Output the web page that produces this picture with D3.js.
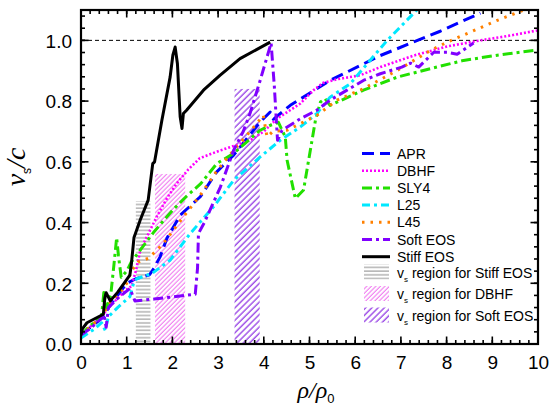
<!DOCTYPE html>
<html><head><meta charset="utf-8">
<script src="https://cdn.jsdelivr.net/npm/d3@7"></script>
<style>body{margin:0;background:#fff}svg{display:block}</style>
</head><body><div id="chart"></div>
<script>
// ---------- data ----------
const xTickValues = [0,1,2,3,4,5,6,7,8,9,10];
const yTickValues = [0.0,0.2,0.4,0.6,0.8,1.0];

const aprX = [0,0.25,0.5,0.6,0.8,1.0,1.2,1.5,1.6,1.73,1.88,2.17,2.61,2.97,3.34,3.92,4.14,4.21,4.58,5.45,6.55,7.86,8.74];
const aprY = [0.03,0.06,0.09,0.12,0.16,0.2,0.215,0.228,0.25,0.287,0.348,0.424,0.485,0.567,0.622,0.731,0.764,0.74,0.786,0.868,0.95,1.03,1.09];

const dbhfX = [0,0.3,0.5,0.6,0.8,1.0,1.1,1.2,1.3,1.66,1.88,2.1,2.35,2.6,3.0,3.34,3.7,4.0,4.29,4.8,5.09,5.3,5.6,6.11,6.55,7.28,8.01,8.74,9.4,10];
const dbhfY = [0.03,0.07,0.1,0.12,0.15,0.18,0.19,0.24,0.31,0.42,0.48,0.53,0.575,0.612,0.635,0.652,0.671,0.7,0.742,0.792,0.836,0.86,0.872,0.885,0.912,0.95,0.98,1.0,1.016,1.033];

const sly4X = [0,0.2,0.45,0.5,0.55,0.65,0.72,0.78,0.82,0.88,1.0,1.1,1.3,1.6,2.0,2.3,2.62,2.97,3.34,3.92,4.14,4.32,4.47,4.51,4.69,4.87,5.13,5.24,5.34,5.45,6.18,6.92,7.65,8.37,9.11,10];
const sly4Y = [0.03,0.06,0.09,0.17,0.12,0.16,0.26,0.35,0.29,0.22,0.24,0.27,0.31,0.37,0.44,0.485,0.528,0.594,0.628,0.704,0.72,0.73,0.682,0.605,0.479,0.507,0.737,0.797,0.808,0.786,0.836,0.879,0.907,0.934,0.951,0.969];

const l25X = [0,0.3,0.45,0.53,0.6,0.8,1.07,1.15,1.22,1.55,1.95,2.39,2.9,3.34,3.92,4.36,4.8,5.16,5.45,5.89,6.7,7.35];
const l25Y = [0.02,0.05,0.07,0.045,0.09,0.12,0.156,0.2,0.215,0.232,0.276,0.364,0.452,0.539,0.616,0.671,0.715,0.759,0.813,0.857,1.0,1.1];

const l45X = [0,0.3,0.5,0.6,0.8,1.0,1.1,1.25,1.47,1.66,1.8,2.24,2.61,2.97,3.34,3.7,3.99,4.07,4.2,4.51,5.16,5.6,6.18,6.92,7.65,8.01,8.52,9.11,9.69];
const l45Y = [0.03,0.07,0.1,0.13,0.16,0.2,0.24,0.27,0.282,0.309,0.331,0.419,0.49,0.57,0.638,0.7,0.753,0.682,0.7,0.704,0.753,0.803,0.841,0.901,0.967,0.994,1.027,1.066,1.1];

const softX = [0,0.2,0.45,0.5,0.55,0.6,0.8,1.07,1.18,1.6,2.0,2.5,2.55,2.57,2.7,3.05,3.34,3.55,3.7,3.92,4.16,4.23,4.3,4.4,4.8,5.16,5.45,5.82,6.18,6.55,7.02,7.21,7.39,7.72,8.01,8.23,8.59];
const softY = [0.03,0.05,0.085,0.1,0.055,0.12,0.15,0.183,0.142,0.148,0.155,0.164,0.25,0.364,0.4,0.517,0.638,0.7,0.76,0.868,0.991,0.85,0.671,0.704,0.742,0.77,0.803,0.836,0.868,0.89,0.912,0.925,0.912,0.961,0.961,0.954,0.991];

const stiffX = [0,0.03,0.13,0.49,0.52,0.55,0.64,0.8,1.07,1.1,1.16,1.3,1.47,1.57,1.61,1.77,1.95,2.01,2.06,2.11,2.17,2.21,2.24,2.31,2.68,3.04,3.48,4.14];
const stiffY = [0.03,0.05,0.07,0.098,0.15,0.169,0.142,0.17,0.227,0.26,0.351,0.41,0.474,0.594,0.60,0.737,0.879,0.951,0.978,0.923,0.748,0.71,0.759,0.77,0.836,0.885,0.94,0.994];

// shaded regions: [x0, x1, top]
const regionNames = ["stiff","dbhf","soft"];
const regionX0 = [1.20, 1.62, 3.36];
const regionX1 = [1.52, 2.28, 3.91];
const regionTop = [0.47, 0.56, 0.84];

const seriesNames = ["APR","DBHF","SLY4","L25","L45","Soft EOS","Stiff EOS"];
const regionLabels = ["region for Stiff EOS","region for DBHF","region for Soft EOS"];

// ---------- styles ----------
const seriesStyle = {
  "APR":      {color:"#0000ff", dash:"12,6", width:3},
  "DBHF":     {color:"#ff00ff", dash:"2,2", width:2.6},
  "SLY4":     {color:"#22e000", dash:"10,4,3,4", width:3},
  "L25":      {color:"#00e8ff", dash:"8,4,3,4", width:3},
  "L45":      {color:"#ff8000", dash:"2.5,6", width:3},
  "Soft EOS": {color:"#8000ff", dash:"10,4,3,4", width:3},
  "Stiff EOS":{color:"#000000", dash:null, width:3}
};
const seriesData = {
  "APR":[aprX,aprY], "DBHF":[dbhfX,dbhfY], "SLY4":[sly4X,sly4Y],
  "L25":[l25X,l25Y], "L45":[l45X,l45Y], "Soft EOS":[softX,softY], "Stiff EOS":[stiffX,stiffY]
};

const W = 551, H = 406;
const M = {left:81, top:10, right:538, bottom:344};
const x = d3.scaleLinear().domain([0,10]).range([M.left, M.right]);
const y = d3.scaleLinear().domain([0,1.1]).range([M.bottom, M.top]);

const svg = d3.select("#chart").append("svg").attr("width",W).attr("height",H)
  .style("font-family","'Liberation Sans', Arial, sans-serif");

const defs = svg.append("defs");
defs.append("clipPath").attr("id","clip").append("rect")
  .attr("x",M.left).attr("y",M.top).attr("width",M.right-M.left).attr("height",M.bottom-M.top);

const pg = defs.append("pattern").attr("id","hatch-stiff").attr("patternUnits","userSpaceOnUse")
  .attr("width",8).attr("height",3.7);
pg.append("line").attr("x1",0).attr("x2",8).attr("y1",1).attr("y2",1).attr("stroke","#8c8c8c").attr("stroke-width",1);
const pp = defs.append("pattern").attr("id","hatch-dbhf").attr("patternUnits","userSpaceOnUse")
  .attr("width",3.2).attr("height",6).attr("patternTransform","rotate(45)");
pp.append("line").attr("x1",1).attr("x2",1).attr("y1",0).attr("y2",6).attr("stroke","#f07cf0").attr("stroke-width",1.1);
const pv = defs.append("pattern").attr("id","hatch-soft").attr("patternUnits","userSpaceOnUse")
  .attr("width",4.4).attr("height",6).attr("patternTransform","rotate(45)");
pv.append("line").attr("x1",1).attr("x2",1).attr("y1",0).attr("y2",6).attr("stroke","#8a2be2").attr("stroke-width",1.2);
const fills = {"stiff":"url(#hatch-stiff)","dbhf":"url(#hatch-dbhf)","soft":"url(#hatch-soft)"};

// regions
const regG = svg.append("g");
regionNames.forEach((n,i)=>{
  regG.append("rect").attr("x",x(regionX0[i])).attr("width",x(regionX1[i])-x(regionX0[i]))
    .attr("y",y(regionTop[i])).attr("height",y(0)-y(regionTop[i])).attr("fill",fills[n]);
});

// reference line at 1.0
svg.append("line").attr("x1",x(0)).attr("x2",x(10)).attr("y1",y(1)).attr("y2",y(1))
  .attr("stroke","#000").attr("stroke-width",1).attr("stroke-dasharray","4,3");

// curves
const line = d3.line().x(d=>x(d[0])).y(d=>y(d[1]));
const curveG = svg.append("g").attr("clip-path","url(#clip)");
seriesNames.forEach(n=>{
  const [xs,ys] = seriesData[n];
  const st = seriesStyle[n];
  const pts = xs.map((v,i)=>[v,ys[i]]);
  curveG.append("path").attr("d",line(pts)).attr("fill","none").attr("stroke",st.color)
    .attr("stroke-width",st.width).attr("stroke-dasharray",st.dash).attr("stroke-linejoin","round");
});

// axes
const minorX = d3.range(0,10.001,0.2);
const minorY = d3.range(0,1.1,0.04);
function ticks(g, vals, orient, len){
  vals.forEach(v=>{
    if(orient==="bottom") g.append("line").attr("x1",x(v)).attr("x2",x(v)).attr("y1",M.bottom).attr("y2",M.bottom-len);
    if(orient==="top") g.append("line").attr("x1",x(v)).attr("x2",x(v)).attr("y1",M.top).attr("y2",M.top+len);
    if(orient==="left") g.append("line").attr("y1",y(v)).attr("y2",y(v)).attr("x1",M.left).attr("x2",M.left+len);
    if(orient==="right") g.append("line").attr("y1",y(v)).attr("y2",y(v)).attr("x1",M.right).attr("x2",M.right-len);
  });
}
const axG = svg.append("g").attr("stroke","#000").attr("stroke-width",1.6);
["bottom","top"].forEach(o=>{ticks(axG,minorX,o,4); ticks(axG,xTickValues,o,7.5);});
["left","right"].forEach(o=>{ticks(axG,minorY,o,4); ticks(axG,yTickValues,o,7.5);});
svg.append("rect").attr("x",M.left).attr("y",M.top).attr("width",M.right-M.left).attr("height",M.bottom-M.top)
  .attr("fill","none").attr("stroke","#000").attr("stroke-width",2.2);

// tick labels (via d3 axis, drawn with no tick lines)
const xAxis = d3.axisBottom(x).tickValues(xTickValues).tickSize(0).tickPadding(0).tickFormat(d3.format("d"));
const xg = svg.append("g").attr("transform",`translate(0,${M.bottom})`).call(xAxis);
xg.select(".domain").remove();
xg.selectAll("text").attr("y",25).attr("dy",0).attr("font-size","19px").attr("font-family","'Liberation Sans', Arial, sans-serif");
const yAxis = d3.axisLeft(y).tickValues(yTickValues).tickSize(0).tickPadding(0).tickFormat(d3.format(".1f"));
const yg = svg.append("g").attr("transform",`translate(${M.left},0)`).call(yAxis);
yg.select(".domain").remove();
yg.selectAll("text").attr("x",-9).attr("dy","0.36em").attr("font-size","19px").attr("font-family","'Liberation Sans', Arial, sans-serif");

// axis titles
const yl = svg.append("text").attr("transform","translate(25,167) rotate(-90)").attr("text-anchor","middle")
  .attr("font-family","'Liberation Serif', 'Times New Roman', serif").attr("font-size","28px");
yl.append("tspan").attr("font-style","italic").text("v");
yl.append("tspan").attr("font-family","'Liberation Sans', Arial, sans-serif").attr("font-size","12px").attr("dy","6").text("s");
yl.append("tspan").attr("dy","-6").attr("font-style","italic").text("/c");

const xl = svg.append("text").attr("x",316).attr("y",398).attr("text-anchor","middle")
  .attr("font-family","'Liberation Serif', 'Times New Roman', serif").attr("font-size","24px");
xl.append("tspan").attr("font-style","italic").text("ρ/ρ");
xl.append("tspan").attr("font-family","'Liberation Sans', Arial, sans-serif").attr("font-size","13px").attr("dy","5").text("0");

// legend
const lg = svg.append("g").attr("font-size","14px");
const rowY = [153.5,170.7,187.9,205.1,222.3,239.5,256.7];
seriesNames.forEach((n,i)=>{
  const st = seriesStyle[n];
  lg.append("line").attr("x1",362).attr("x2",390).attr("y1",rowY[i]).attr("y2",rowY[i])
    .attr("stroke",st.color).attr("stroke-width",st.width).attr("stroke-dasharray",st.dash);
  lg.append("text").attr("x",397).attr("y",rowY[i]).attr("dy","0.36em").text(n);
});
const patY = [272.5,294,315.5];
regionNames.forEach((n,i)=>{
  lg.append("rect").attr("x",364).attr("y",patY[i]-8).attr("width",25).attr("height",15).attr("fill",fills[n]);
  const t = lg.append("text").attr("x",397).attr("y",patY[i]).attr("dy","0.36em");
  t.append("tspan").text("v");
  t.append("tspan").attr("font-size","8px").attr("dy","4").text("s");
  t.append("tspan").attr("dy","-4").text(" " + regionLabels[i]);
});
</script></body></html>
